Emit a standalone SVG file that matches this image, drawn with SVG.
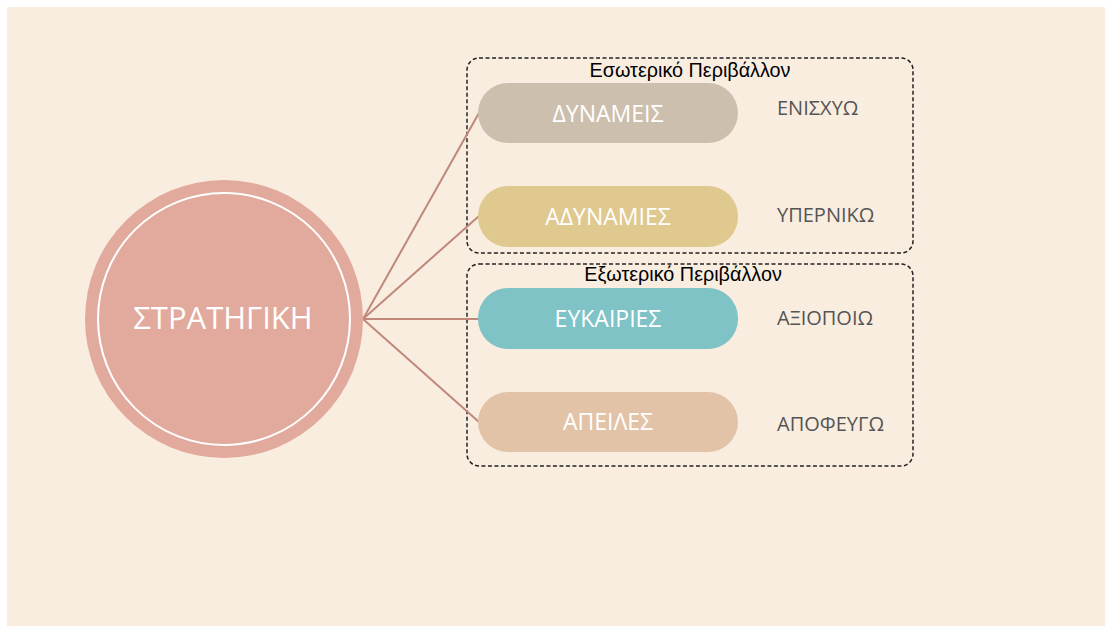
<svg xmlns="http://www.w3.org/2000/svg" width="1105" height="626" viewBox="0 0 1105 626">
<style>
.pill-text{font-family:"Open Sans","Noto Sans",sans-serif;font-size:23px;fill:#ffffff;text-anchor:middle}
.side{font-family:"Open Sans","Noto Sans",sans-serif;font-size:20px;fill:#555555}
.title{font-family:"Liberation Sans",Arial,sans-serif;font-size:19.8px;fill:#000000;text-anchor:middle}
.box{fill:none;stroke:#222222;stroke-width:1.5;stroke-dasharray:4,2.5}
.conn{stroke:#C0887A;stroke-width:2;fill:none}
</style>
<rect x="0" y="0" width="1105" height="626" fill="#ffffff"/>
<rect x="7" y="7" width="1098" height="619" fill="#F9EDE0"/>
<g id="group-internal">
<rect class="box" x="467" y="58" width="446" height="195" rx="12"/>
<text class="title" x="690" y="77">Εσωτερικό Περιβάλλον</text>
</g>
<g id="group-external">
<rect class="box" x="467" y="264" width="446" height="202" rx="12"/>
<text class="title" x="683" y="281">Εξωτερικό Περιβάλλον</text>
</g>
<g id="connectors">
<line class="conn" x1="363" y1="319" x2="479" y2="113"/>
<line class="conn" x1="363" y1="319" x2="479" y2="216"/>
<line class="conn" x1="363" y1="319" x2="479" y2="319"/>
<line class="conn" x1="363" y1="319" x2="479" y2="422"/>
</g>
<g id="strategy">
<circle cx="224" cy="319" r="139" fill="#E2AA9D"/>
<circle cx="224" cy="319" r="126" fill="none" stroke="#ffffff" stroke-width="2"/>
<text x="223" y="329" font-family="'Open Sans','Noto Sans',sans-serif" font-size="31" fill="#ffffff" text-anchor="middle">ΣΤΡΑΤΗΓΙΚΗ</text>
</g>
<g id="strengths">
<rect x="478" y="83" width="260" height="60" rx="30" fill="#CDBFAE"/>
<text class="pill-text" x="608" y="122">ΔΥΝΑΜΕΙΣ</text>
</g>
<g id="weaknesses">
<rect x="478" y="186" width="260" height="61" rx="30" fill="#DFC98F"/>
<text class="pill-text" x="608" y="225">ΑΔΥΝΑΜΙΕΣ</text>
</g>
<g id="opportunities">
<rect x="478" y="288" width="260" height="61" rx="30" fill="#7FC3C7"/>
<text class="pill-text" x="608" y="327">ΕΥΚΑΙΡΙΕΣ</text>
</g>
<g id="threats">
<rect x="478" y="392" width="260" height="60" rx="30" fill="#E3C3A8"/>
<text class="pill-text" x="608" y="430">ΑΠΕΙΛΕΣ</text>
</g>
<g id="label-enisxyo"><text class="side" x="777" y="115">ΕΝΙΣΧΥΩ</text></g>
<g id="label-ypernikw"><text class="side" x="777" y="222">ΥΠΕΡΝΙΚΩ</text></g>
<g id="label-axiopoiw"><text class="side" x="777" y="325">ΑΞΙΟΠΟΙΩ</text></g>
<g id="label-apofeygw"><text class="side" x="777" y="431">ΑΠΟΦΕΥΓΩ</text></g>
</svg>
